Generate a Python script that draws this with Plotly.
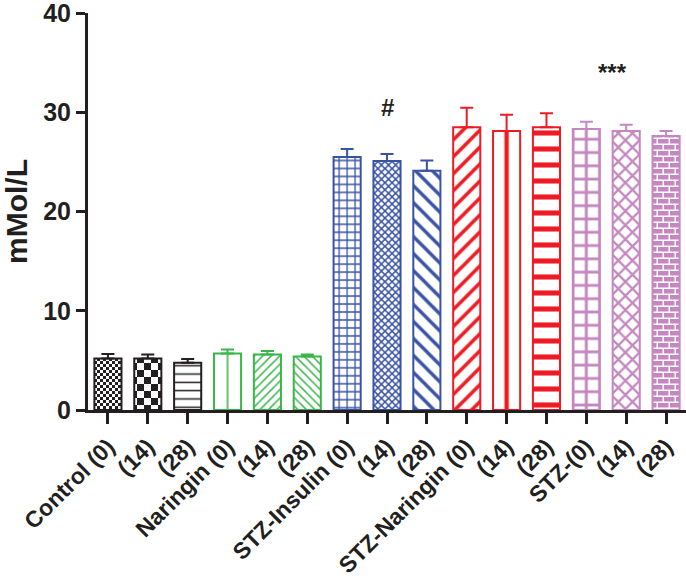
import plotly.graph_objects as go

# ---- data ----
groups = ["Control", "Naringin", "STZ-Insulin", "STZ-Naringin", "STZ-"]
tick_labels = ["Control (0)", "(14)", "(28)",
               "Naringin (0)", "(14)", "(28)",
               "STZ-Insulin (0)", "(14)", "(28)",
               "STZ-Naringin (0)", "(14)", "(28)",
               "STZ-(0)", "(14)", "(28)"]
control_vals = [5.2, 5.2, 4.75]
control_err = [0.45, 0.4, 0.4]
naringin_vals = [5.7, 5.6, 5.4]
naringin_err = [0.4, 0.35, 0.2]
insulin_vals = [25.5, 25.1, 24.1]
insulin_err = [0.8, 0.7, 1.05]
stzn_vals = [28.5, 28.1, 28.5]
stzn_err = [1.95, 1.65, 1.4]
stz_vals = [28.3, 28.1, 27.6]
stz_err = [0.75, 0.65, 0.5]

# ---- style ----
FONT = "Liberation Sans, Arial, Helvetica, sans-serif"
INK = "#231f20"
W, H = 686, 583
ML, MR, MT, MB = 88, 0, 13, 173
CAT = (W - ML - MR) / 15.0  # px per category

colors = ["#231f20", "#3ab54a", "#3953a4", "#ed1c24", "#c487c0"]
series = [
    (control_vals, control_err),
    (naringin_vals, naringin_err),
    (insulin_vals, insulin_err),
    (stzn_vals, stzn_err),
    (stz_vals, stz_err),
]


def checker(c):
    return "M0,0H%gV%gH0Z M%g,%gH%gV%gH%gZ" % (c, c, c, c, 2 * c, 2 * c, c)


def brick():
    # 12x12 tile, two staggered rows of bricks with thin mortar
    return ("M0,0H10.5V4.5H0Z "
            "M0,6H4.5V10.5H0Z M6,6H12V10.5H6Z")


styles = [
    [dict(path=checker(3), size=6), dict(path=checker(7), size=14),
     dict(shape="-", size=8.3, solidity=0.18)],
    [dict(shape="|", size=CAT, solidity=0.04), dict(shape="/", size=6, solidity=0.25),
     dict(shape="\\", size=6, solidity=0.25)],
    [dict(shape="+", size=CAT / 5, solidity=0.3), dict(shape="x", size=5, solidity=0.5),
     dict(shape="\\", size=12, solidity=0.28)],
    [dict(shape="/", size=12, solidity=0.3), dict(shape="|", size=CAT, solidity=0.11),
     dict(shape="-", size=16, solidity=0.32)],
    [dict(shape="+", size=CAT / 3, solidity=0.4), dict(shape="x", size=10, solidity=0.4),
     dict(path=brick(), size=12)],
]

fig = go.Figure()
for gi, ((vals, errs), col, sty) in enumerate(zip(series, colors, styles)):
    for k in range(3):
        s = sty[k]
        pat = dict(size=s["size"], fgcolor=col, bgcolor="white",
                   fgopacity=1, fillmode="replace")
        if "path" in s:
            pat["path"] = s["path"]
        else:
            pat["shape"] = s["shape"]
            pat["solidity"] = s["solidity"]
        fig.add_trace(go.Bar(
            x=[gi * 3 + k], y=[vals[k]], width=0.68,
            marker=dict(color="white", line=dict(color=col, width=2), pattern=pat),
            error_y=dict(type="data", symmetric=False, array=[errs[k]],
                         arrayminus=[0], color=col, thickness=2, width=6.5),
            showlegend=False, hoverinfo="skip",
        ))

fig.add_annotation(x=7, y=30.5, text="<b>#</b>", showarrow=False,
                   font=dict(family=FONT, size=24, color=INK))
fig.add_annotation(x=12.65, y=34.0, text="<b>***</b>", showarrow=False,
                   font=dict(family=FONT, size=24, color=INK))

fig.update_layout(
    width=W, height=H,
    margin=dict(l=ML, r=MR, t=MT, b=MB),
    paper_bgcolor="white", plot_bgcolor="white",
    barmode="overlay",
    font=dict(family=FONT, color=INK),
    xaxis=dict(range=[-0.5, 14.5], tickmode="array",
               tickvals=list(range(15)),
               ticktext=["<b>%s</b>" % t for t in tick_labels],
               tickangle=-45, tickfont=dict(size=23, family=FONT),
               ticks="outside", ticklen=11, tickwidth=3, tickcolor=INK,
               showline=True, linewidth=3, linecolor=INK,
               showgrid=False, zeroline=False, automargin=False,
               ticklabeloverflow="allow"),
    yaxis=dict(range=[0, 40], tickmode="array", tickvals=[0, 10, 20, 30, 40],
               ticktext=["<b>%d</b>" % v for v in [0, 10, 20, 30, 40]],
               tickfont=dict(size=25, family=FONT),
               ticks="outside", ticklen=9, tickwidth=3, tickcolor=INK,
               showline=True, linewidth=3, linecolor=INK,
               showgrid=False, zeroline=False, automargin=False,
               ticklabeloverflow="allow",
               title=dict(text="<b>mMol/L</b>", font=dict(size=30, family=FONT),
                          standoff=12)),
)

fig.write_html("out.html", config={"displayModeBar": False},
               post_script="document.body.style.margin='0px';")
